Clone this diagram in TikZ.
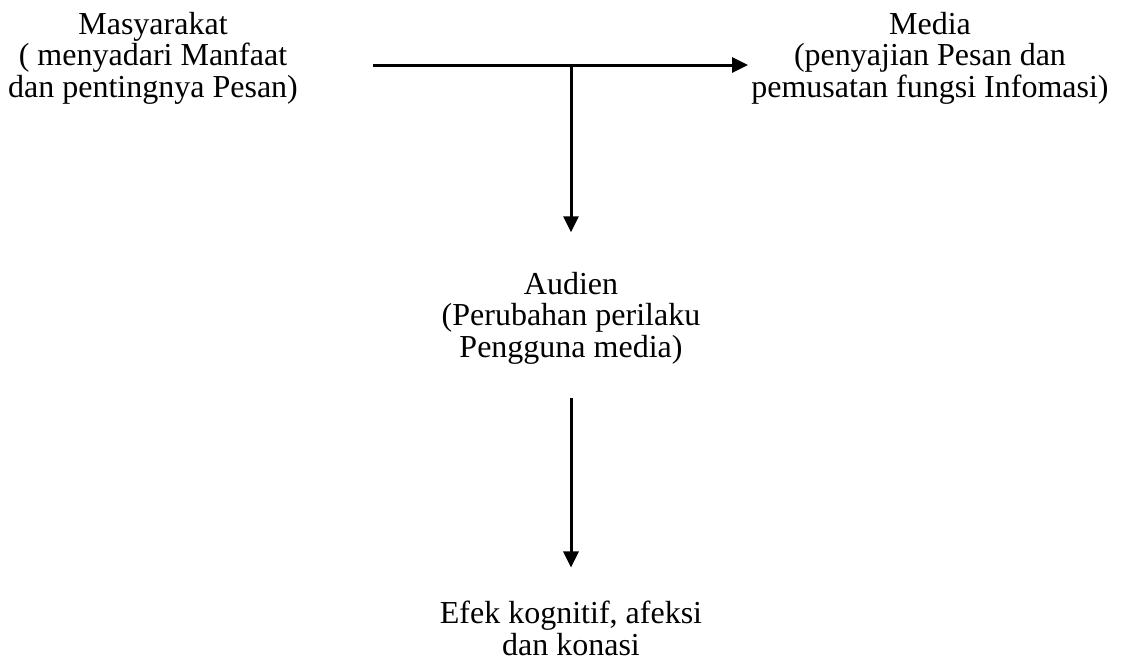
\documentclass[tikz,border=0pt]{standalone}
\usepackage{fontspec}
\setmainfont{Liberation Serif}
\usetikzlibrary{arrows.meta, positioning}

\begin{document}
\begin{tikzpicture}[x=0.4pt, y=-0.4pt,
    blocktext/.style={align=center, inner sep=0pt, anchor=base,
      font=\fontsize{12.8}{12.6}\selectfont},
    arr/.style={line width=1.2pt, -{Triangle[length=6.4pt, width=6pt]}}]
  \useasboundingbox (0,0) rectangle (1136,663);
  % anchor base = baseline of the last line
  \node [blocktext] (masy) at (153,97) {Masyarakat\\( menyadari Manfaat\\dan pentingnya Pesan)};
  \node [blocktext] (media) at (930,97) {Media\\(penyajian Pesan dan\\pemusatan fungsi Infomasi)};
  \node [blocktext] (audien) at (571,357) {Audien\\(Perubahan perilaku\\Pengguna media)};
  \node [blocktext] (efek) at (571,655) {Efek kognitif, afeksi\\dan konasi};
  \coordinate (hbeg) at (373,65);
  \coordinate (split) at (571,65);
  \coordinate (hend) at (748,65);
  \draw [arr] (hbeg) -- (hend);
  \draw [arr, shorten >=15.6pt] (split) -- (audien.north);
  \draw [arr, shorten <=13.6pt, shorten >=13.2pt] (audien.south) -- (efek.north);
\end{tikzpicture}
\end{document}
